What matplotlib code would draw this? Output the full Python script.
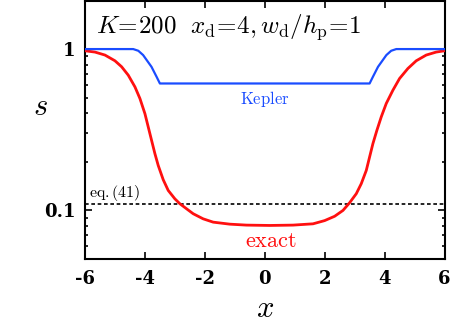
import matplotlib
matplotlib.use("Agg")
import matplotlib.pyplot as plt
from matplotlib.ticker import LogLocator, NullFormatter

plt.rcParams["mathtext.fontset"] = "cm"
plt.rcParams["font.family"] = "serif"
plt.rcParams["font.serif"] = ["DejaVu Serif"]

# exact solution
x_exact = [-6.0, -5.667, -5.333, -5.0, -4.778, -4.556, -4.333, -4.167, -4.0, -3.889,
           -3.778, -3.667, -3.556, -3.389, -3.222, -3.0, -2.833, -2.611, -2.389, -2.056,
           -1.722, -1.167, -0.611, 0.167, 0.944, 1.611, 2.0, 2.333, 2.611, 2.833,
           3.056, 3.222, 3.389, 3.5, 3.611, 3.744, 3.889, 4.056, 4.278, 4.5,
           4.778, 5.056, 5.389, 5.722, 6.0]
s_exact = [0.976, 0.958, 0.918, 0.846, 0.777, 0.689, 0.583, 0.494, 0.398, 0.329,
           0.272, 0.225, 0.19, 0.155, 0.133, 0.118, 0.110, 0.1024, 0.0954, 0.0887,
           0.0846, 0.0822, 0.0811, 0.0807, 0.0811, 0.0826, 0.0865, 0.092, 0.100, 0.1116,
           0.127, 0.1465, 0.177, 0.2145, 0.2596, 0.314, 0.380, 0.46, 0.556, 0.657,
           0.758, 0.846, 0.918, 0.958, 0.976]

# Kepler approximation
x_kep = [-6.0, -4.39, -4.22, -4.06, -3.78, -3.61, -3.5, 3.5, 3.61, 3.78, 4.06, 4.22, 4.39, 6.0]
s_kep = [1.0, 1.0, 0.976, 0.918, 0.776, 0.673, 0.612, 0.612, 0.673, 0.776, 0.918, 0.976, 1.0, 1.0]

s_eq41 = 0.11

xticks = [-6, -4, -2, 0, 2, 4, 6]
xtick_labels = ["-6", "-4", "-2", "0", "2", "4", "6"]
yticks = [0.1, 1]
ytick_labels = ["0.1", "1"]

fig = plt.figure(figsize=(4.51, 3.23), dpi=100)
ax = fig.add_axes([85 / 451, 64 / 323, 359.5 / 451, 258.5 / 323])

ax.plot(x_exact, s_exact, color="#ff1010", lw=2.0, zorder=3)
ax.plot(x_kep, s_kep, color="#1a4cff", lw=1.6, zorder=3)
ax.axhline(s_eq41, color="black", lw=1.2, ls=(0, (2.2, 1.6)), zorder=2)

ax.set_yscale("log")
ax.set_xlim(-6, 6)
ax.set_ylim(0.05, 2.0)

ax.set_xticks(xticks, xtick_labels, fontweight="bold", fontsize=13)
ax.set_yticks(yticks, ytick_labels, fontweight="bold", fontsize=13)
ax.yaxis.set_minor_locator(LogLocator(base=10, subs=range(2, 10)))
ax.yaxis.set_minor_formatter(NullFormatter())

ax.tick_params(which="both", direction="in", top=True, right=True, width=1.2)
ax.tick_params(which="major", length=5)
ax.tick_params(which="minor", length=2.5)
ax.tick_params(axis="x", pad=8)
ax.tick_params(axis="y", pad=7)
for sp in ax.spines.values():
    sp.set_linewidth(1.5)

ax.set_xlabel(r"$x$", fontsize=22, va="top")
ax.xaxis.set_label_coords(0.5, -0.13)
ax.set_ylabel(r"$s$", fontsize=22, rotation=0, va="center")
ax.yaxis.set_label_coords(-0.125, 0.59)

ax.text(0.03, 0.955, r"$K\!=\!200\ \ x_{\rm d}\!=\!4,w_{\rm d}/h_{\rm p}\!=\!1$",
        transform=ax.transAxes, fontsize=18, ha="left", va="top")
ax.text(0.0, 0.49, r"$\rm Kepler$", color="#1a4cff", fontsize=12, ha="center", va="center")
ax.text(0.2, 0.065, r"$\rm exact$", color="#ff1010", fontsize=16, ha="center", va="center")
ax.text(-5.85, 0.129, r"$\rm eq.(41)$", color="black", fontsize=11.5, ha="left", va="center")

fig.savefig("out.png", dpi=100)
